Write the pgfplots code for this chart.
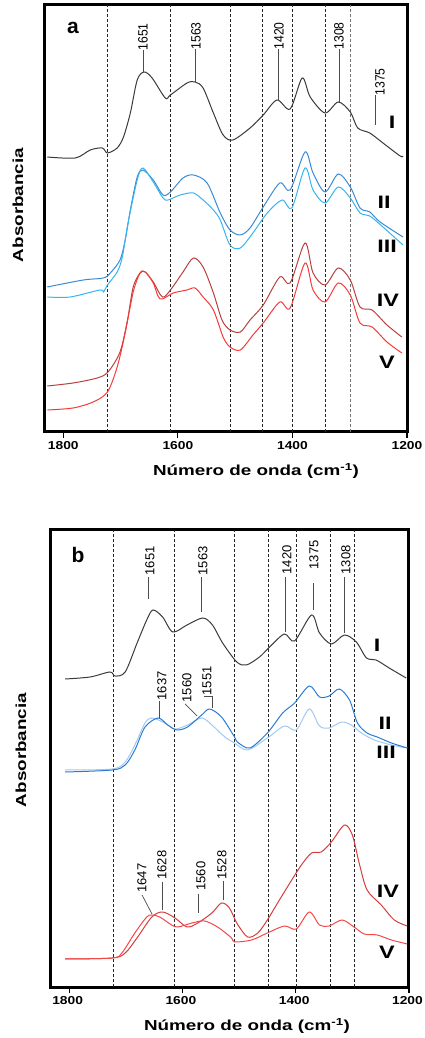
\documentclass[border=0pt]{standalone}
\usepackage{pgfplots}
\pgfplotsset{compat=1.18}
\usepackage{fontspec}
\setmainfont{Liberation Sans}
\newfontfamily\wide[FakeStretch=1.3]{Liberation Sans}
\newfontfamily\tickf[FakeStretch=1.2]{Liberation Sans}
\newfontfamily\narrow[FakeStretch=0.9]{Liberation Sans}

\definecolor{cI}{HTML}{3A3A3A}
\definecolor{aII}{HTML}{3A8AD4}
\definecolor{aIII}{HTML}{35B5F0}
\definecolor{aIV}{HTML}{B8403F}
\definecolor{aV}{HTML}{F53A3A}
\definecolor{bII}{HTML}{2A7CD2}
\definecolor{bIII}{HTML}{A3C9F2}
\definecolor{bIV}{HTML}{D63C3C}
\definecolor{bV}{HTML}{F24848}

\pgfplotsset{spec/.style={
    scale only axis, x dir=reverse, xmin=1200, xmax=1832, ymin=0,
    xtick={1200,1400,1600,1800}, xticklabels={1200,1400,1600,1800},
    ytick=\empty, xtick pos=left, xtick align=outside,
    major tick length=6pt, tick style={line width=1.2pt, black},
    axis line style={line width=3pt},
    xticklabel style={font=\tickf\bfseries\fontsize{11.5}{14}\selectfont},
    every axis plot/.append style={line width=1pt, smooth, tension=0.5},
  },
  vl/.style={black!85, line width=0.6pt, dash pattern=on 3pt off 2pt, sharp plot},
}

\begin{document}
\begin{tikzpicture}
\path[use as bounding box] (0,0) rectangle (424pt,1038pt);

% panel a
\begin{axis}[spec, at={(45pt,606pt)}, anchor=south west,
  width=362pt, height=427pt, ymax=427]
\foreach \w in {1723,1613,1509,1453,1401,1343}{
  \edef\tmp{\noexpand\addplot[vl] coordinates {(\w,0) (\w,427)};}\tmp}
\addplot[vl, black!55] coordinates {(1299,0) (1299,427)};
\addplot[cI] coordinates {(1828,275)(1779,274)(1753,282)(1732,284)(1723,279)(1706,284)(1695,295)(1683,319)(1671,352)(1659,360)(1645,354)(1622,334)(1613,337)(1584,349)(1570,350)(1556,344)(1538,319)(1521,297)(1504,292)(1474,304)(1451,317)(1427,332)(1404,323)(1383,354)(1369,335)(1343,319)(1320,330)(1299,320)(1286,304)(1265,299)(1242,289)(1212,276)(1207,276)};
\addplot[aII] coordinates {(1828,145)(1765,152)(1730,154)(1718,159)(1701,172)(1692,192)(1683,222)(1671,255)(1661,262)(1643,252)(1626,237)(1613,240)(1591,254)(1573,257)(1549,249)(1526,219)(1509,202)(1491,197)(1474,204)(1451,225)(1422,249)(1404,242)(1378,280)(1364,259)(1343,240)(1320,258)(1299,245)(1282,224)(1265,220)(1247,210)(1207,195)};
\addplot[aIII] coordinates {(1828,135)(1788,135)(1736,142)(1730,140)(1723,147)(1706,160)(1697,175)(1687,209)(1671,252)(1661,264)(1643,250)(1626,234)(1617,232)(1596,237)(1573,239)(1556,232)(1538,222)(1526,212)(1509,187)(1491,184)(1469,199)(1444,219)(1418,232)(1401,224)(1378,264)(1364,242)(1343,229)(1320,245)(1299,234)(1282,219)(1265,216)(1242,205)(1207,187)};
\addplot[aIV] coordinates {(1828,46)(1783,49)(1741,54)(1722,60)(1701,80)(1688,112)(1678,145)(1666,159)(1657,160)(1643,150)(1627,135)(1613,142)(1591,160)(1573,174)(1556,165)(1538,139)(1523,112)(1509,102)(1491,100)(1474,112)(1451,127)(1422,155)(1404,149)(1378,189)(1364,159)(1343,147)(1320,164)(1299,152)(1282,125)(1261,122)(1235,107)(1209,95)};
\addplot[aV] coordinates {(1828,22)(1783,24)(1748,30)(1723,40)(1706,65)(1692,99)(1678,140)(1666,159)(1657,160)(1643,149)(1631,133)(1608,139)(1584,142)(1570,144)(1556,135)(1538,122)(1521,95)(1509,85)(1491,82)(1469,97)(1451,109)(1422,130)(1404,124)(1378,169)(1364,142)(1343,130)(1320,149)(1299,137)(1282,109)(1261,105)(1235,90)(1209,79)};
\end{axis}

% panel b
\begin{axis}[spec, at={(51pt,51pt)}, anchor=south west,
  width=358pt, height=457pt, ymax=457,
  xticklabel style={xshift=-1.5pt}]
\foreach \w in {1722,1615,1508,1448,1399,1339,1296}{
  \edef\tmp{\noexpand\addplot[vl] coordinates {(\w,0) (\w,457)};}\tmp}
\addplot[cI] coordinates {(1807,308)(1763,310)(1728,315)(1719,311)(1701,315)(1680,344)(1663,367)(1652,377)(1635,370)(1617,355)(1592,362)(1564,369)(1547,362)(1529,344)(1504,325)(1487,322)(1464,330)(1446,340)(1420,353)(1402,346)(1372,372)(1358,354)(1337,343)(1314,352)(1293,345)(1275,329)(1258,327)(1235,319)(1205,309)};
\addplot[bIII] coordinates {(1807,217)(1724,218)(1701,225)(1684,242)(1666,264)(1654,269)(1631,264)(1613,258)(1591,262)(1566,269)(1548,262)(1525,250)(1508,244)(1485,237)(1450,249)(1420,261)(1399,257)(1376,278)(1358,261)(1341,259)(1319,265)(1302,262)(1284,254)(1261,247)(1231,242)(1203,239)};
\addplot[bII] coordinates {(1807,215)(1724,217)(1701,222)(1684,237)(1666,260)(1643,269)(1626,262)(1610,257)(1591,260)(1566,272)(1552,278)(1531,270)(1508,250)(1503,245)(1481,239)(1450,254)(1423,274)(1402,284)(1376,301)(1358,290)(1341,291)(1323,298)(1305,287)(1291,264)(1274,254)(1256,250)(1231,244)(1203,239)};
\addplot[bIV] coordinates {(1807,28)(1724,29)(1701,34)(1679,50)(1654,70)(1635,75)(1613,69)(1592,60)(1573,64)(1548,74)(1531,84)(1517,79)(1504,64)(1485,50)(1467,54)(1450,67)(1432,84)(1407,107)(1390,122)(1372,134)(1355,135)(1337,145)(1314,162)(1300,152)(1288,124)(1274,97)(1249,82)(1226,67)(1203,61)};
\addplot[bV] coordinates {(1807,28)(1724,29)(1707,34)(1684,54)(1663,70)(1654,72)(1640,70)(1619,62)(1608,60)(1583,64)(1561,66)(1538,60)(1513,49)(1508,45)(1478,47)(1450,54)(1420,61)(1399,58)(1376,75)(1358,62)(1341,61)(1318,67)(1297,60)(1279,53)(1256,52)(1231,47)(1203,43)};
\end{axis}

% annotations, in pixel coordinates of the reference
\begin{scope}[x=1pt, y=-1pt, yshift=1038pt]
\tikzset{pk/.style={rotate=90, inner sep=0pt, font=\narrow\fontsize{13.5}{13.5}\selectfont},
  pkb/.style={rotate=90, inner sep=0pt, font=\fontsize{13}{13}\selectfont},
  ld/.style={black!70, line width=0.7pt},
  rn/.style={inner sep=0pt, font=\wide\bfseries\fontsize{18}{18}\selectfont},
  al/.style={inner sep=0pt, font=\wide\bfseries\fontsize{14.5}{15}\selectfont}}
% panel a
\node[inner sep=0pt, font=\bfseries\fontsize{21}{21}\selectfont] at (73,28) {a};
\node[pk] at (143,37) {1651}; \draw[ld] (143,50) -- (143,72);
\node[pk] at (196,36) {1563}; \draw[ld] (195,49) -- (195,82);
\node[pk] at (279,36) {1420}; \draw[ld] (278,49) -- (278,100);
\node[pk] at (339,36) {1308}; \draw[ld] (339,49) -- (339,102);
\node[pk] at (380,82) {1375}; \draw[ld] (375,95) -- (375,125);
\node[rn] at (392,122) {I};
\node[rn] at (384,202) {II};
\node[rn] at (387,246) {III};
\node[rn] at (388,300) {IV};
\node[rn] at (387,362) {V};
\node[al, rotate=90] at (18,205) {Absorbancia};
\node[al] at (256,471) {Número de onda (cm\textsuperscript{-1})};
% panel b
\node[inner sep=0pt, font=\bfseries\fontsize{21}{21}\selectfont] at (78,555) {b};
\node[pkb] at (150,561) {1651}; \draw[ld] (148,577) -- (148,599);
\node[pkb] at (203,561) {1563}; \draw[ld] (201,577) -- (201,612);
\node[pkb] at (287,560) {1420}; \draw[ld] (285,577) -- (285,632);
\node[pkb] at (314,555) {1375}; \draw[ld] (313,583) -- (313,610);
\node[pkb] at (346,560) {1308}; \draw[ld] (344,577) -- (344,633);
\node[pkb] at (162,686) {1637}; \draw[ld] (159,701) -- (159,718);
\node[pkb] at (187,688) {1560}; \draw[ld] (185,704) -- (197,716);
\node[pkb] at (207,681) {1551}; \draw[ld] (204,696) -- (212,696) -- (212,708);
\node[pkb] at (142,878) {1647}; \draw[ld] (142,895) -- (152,914);
\node[pkb] at (162,865) {1628}; \draw[ld] (162,882) -- (162,910);
\node[pkb] at (201,876) {1560}; \draw[ld] (198,894) -- (198,913);
\node[pkb] at (222,865) {1528}; \draw[ld] (223,881) -- (223,900);
\node[rn] at (377,645) {I};
\node[rn] at (385,723) {II};
\node[rn] at (386,752) {III};
\node[rn] at (388,891) {IV};
\node[rn] at (387,952) {V};
\node[al, rotate=90] at (21,750) {Absorbancia};
\node[al] at (247,1026) {Número de onda (cm\textsuperscript{-1})};
\end{scope}
\end{tikzpicture}
\end{document}
